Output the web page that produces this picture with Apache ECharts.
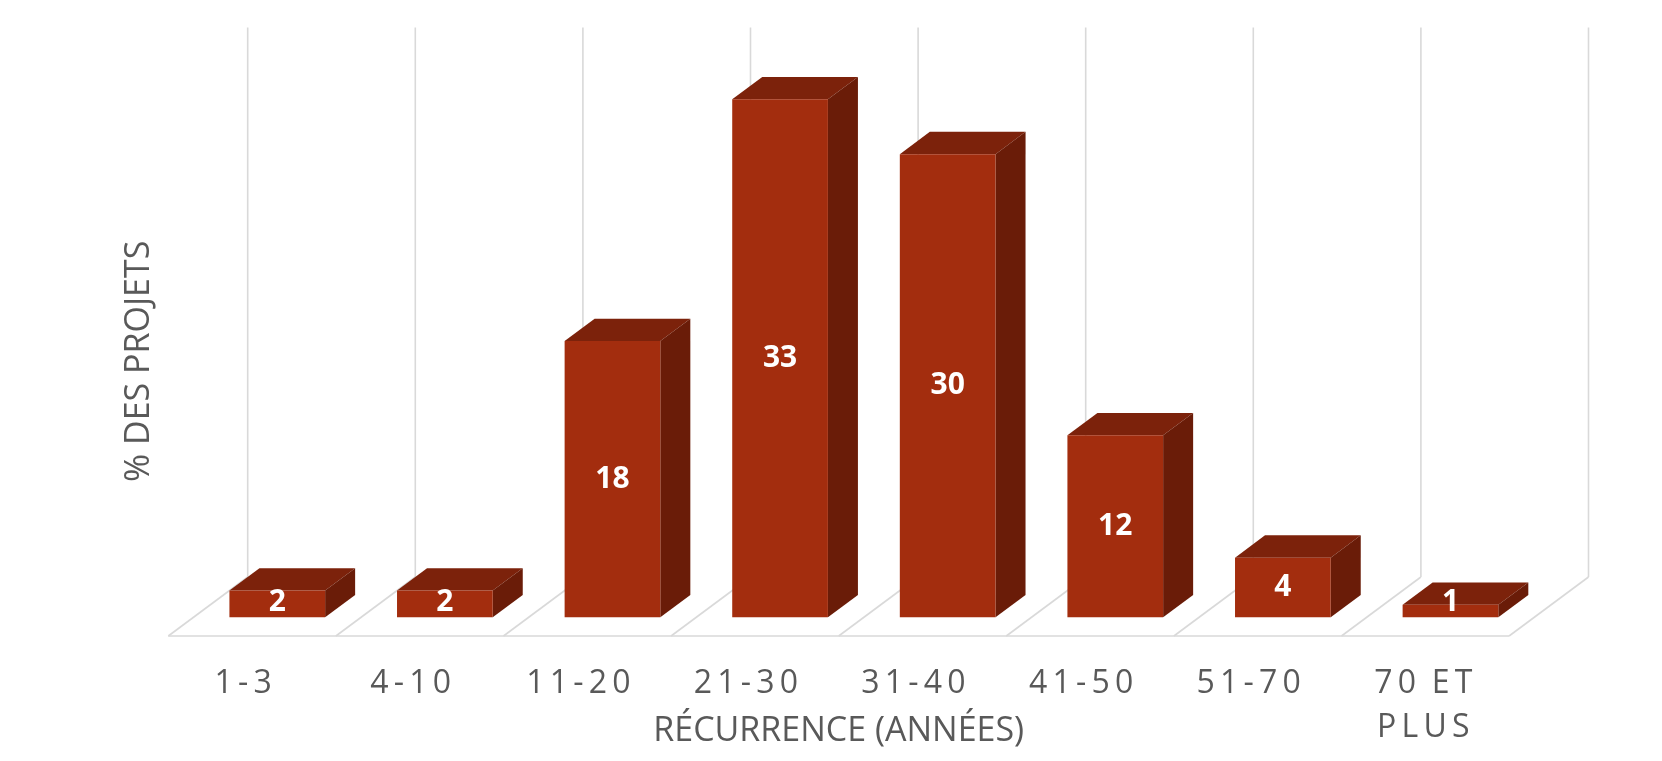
<!DOCTYPE html>
<html>
<head>
<meta charset="utf-8">
<script src="https://cdn.jsdelivr.net/npm/echarts@6/dist/echarts.min.js"></script>
<style>
  html, body { margin: 0; padding: 0; background: #ffffff; }
  #chart { width: 1662px; height: 761px; }
</style>
</head>
<body>
<div id="chart"></div>
<script>
// ---- data ----
const categories = ['1-3', '4-10', '11-20', '21-30', '31-40', '41-50', '51-70', '70 ET\nPLUS'];
const shares = [1.7, 1.7, 17.6, 33.0, 29.5, 11.6, 3.8, 0.8];
const valueMax = 35;
const xTitle = 'RÉCURRENCE (ANNÉES)';
const yTitle = '% DES PROJETS';

// ---- style constants ----
const FRONT = '#A32D0E';
const TOP = '#7C220B';
const SIDE = '#6A1C08';
const GRID_COLOR = '#d9d9d9';
const TEXT_COLOR = '#595959';
const FONT = '"Open Sans", "Noto Sans", sans-serif';
// oblique depth vector for the full floor depth
const DX = 79.4, DY = -59;
const D0 = 0.317, D1 = 0.695;   // bar depth span (fraction of floor depth)
const HALF = 0.2855;            // bar half width (fraction of band)

function spaced(s) {
  return s.split('\n').map(line =>
    line.split('').map(ch => ch === ' ' ? '{g| }' : '{t|' + ch + '}').join('{g| }')
  ).join('\n');
}

const chart = echarts.init(document.getElementById('chart'), null, { renderer: 'canvas' });

function renderFrame(params, api) {
  const bw = api.size([1, 0])[0];
  const c0 = api.coord([0, 0]);
  const yTopVal = api.coord([0, valueMax])[1];
  const x0 = c0[0] - bw / 2;
  const y0 = c0[1];
  const n = categories.length;
  const children = [];
  const ls = { stroke: GRID_COLOR, lineWidth: 1.6 };
  // floor front edge
  children.push({ type: 'line', shape: { x1: x0, y1: y0, x2: x0 + n * bw, y2: y0 }, style: ls });
  for (let b = 0; b <= n; b++) {
    const bx = x0 + b * bw;
    // floor diagonal
    children.push({ type: 'line', shape: { x1: bx, y1: y0, x2: bx + DX, y2: y0 + DY }, style: ls });
    // back wall vertical gridline
    children.push({ type: 'line', shape: { x1: bx + DX, y1: y0 + DY, x2: bx + DX, y2: yTopVal + DY }, style: ls });
  }
  return { type: 'group', children: children };
}

function renderBar(params, api) {
  const i = api.value(0), v = api.value(1);
  const base = api.coord([i, 0]);
  const top = api.coord([i, v]);
  const bw = api.size([1, 0])[0];
  const hw = bw * HALF;
  const fx = base[0] + DX * D0;
  const fy0 = base[1] + DY * D0;
  const fy1 = top[1] + DY * D0;
  const ddx = DX * (D1 - D0), ddy = DY * (D1 - D0);
  const L = fx - hw, R = fx + hw;
  const ly = Math.min((fy0 + fy1) / 2, fy0 - 15);
  return {
    type: 'group',
    children: [
      { type: 'polygon', shape: { points: [[L, fy1], [R, fy1], [R + ddx, fy1 + ddy], [L + ddx, fy1 + ddy]] }, style: { fill: TOP } },
      { type: 'polygon', shape: { points: [[R, fy1], [R, fy0], [R + ddx, fy0 + ddy], [R + ddx, fy1 + ddy]] }, style: { fill: SIDE } },
      { type: 'rect', shape: { x: L, y: fy1, width: 2 * hw, height: fy0 - fy1 }, style: { fill: FRONT } },
      { type: 'text', x: fx, y: ly, z2: 10,
        style: { text: String(Math.round(v)), fill: '#ffffff', fontSize: 30, fontWeight: 'bold',
                 fontFamily: FONT, align: 'center', verticalAlign: 'middle' } }
    ]
  };
}

const option = {
  backgroundColor: '#ffffff',
  animation: false,
  grid: { left: 168.3, right: 152.9, top: 86.5, bottom: 125, containLabel: false, outerBoundsMode: 'none' },
  xAxis: {
    type: 'category',
    data: categories.map((c, i) => i === categories.length - 1
      ? { value: c, textStyle: { padding: [0, 4, 0, 0] } }
      : c),
    name: xTitle,
    nameLocation: 'middle',
    nameGap: 75,
    nameMoveOverlap: false,
    nameTextStyle: { color: TEXT_COLOR, fontSize: 34, fontFamily: FONT, lineHeight: 40 },
    axisLine: { show: false },
    axisTick: { show: false },
    splitLine: { show: false },
    axisLabel: {
      interval: 0,
      margin: 26,
      padding: [0, 18, 0, 0],
      formatter: v => spaced(v),
      lineHeight: 44,
      rich: {
        t: { color: TEXT_COLOR, fontSize: 32, fontFamily: FONT, lineHeight: 44 },
        g: { fontSize: 20, fontFamily: FONT, lineHeight: 44 }
      }
    }
  },
  yAxis: {
    type: 'value',
    min: 0,
    max: valueMax,
    interval: 5,
    name: yTitle,
    nameLocation: 'middle',
    nameGap: 9,
    nameMoveOverlap: false,
    nameTextStyle: { color: TEXT_COLOR, fontSize: 34, fontFamily: FONT, lineHeight: 40 },
    axisLine: { show: false },
    axisTick: { show: false },
    axisLabel: { show: false },
    splitLine: { show: false }
  },
  series: [
    {
      type: 'custom',
      name: 'frame',
      clip: false,
      z: 1,
      silent: true,
      data: [[0, 0]],
      renderItem: renderFrame
    },
    {
      type: 'custom',
      name: '% des projets',
      clip: false,
      z: 2,
      data: shares.map((v, i) => [i, v]),
      encode: { x: 0, y: 1 },
      renderItem: renderBar
    }
  ]
};

chart.setOption(option);
</script>
</body>
</html>
